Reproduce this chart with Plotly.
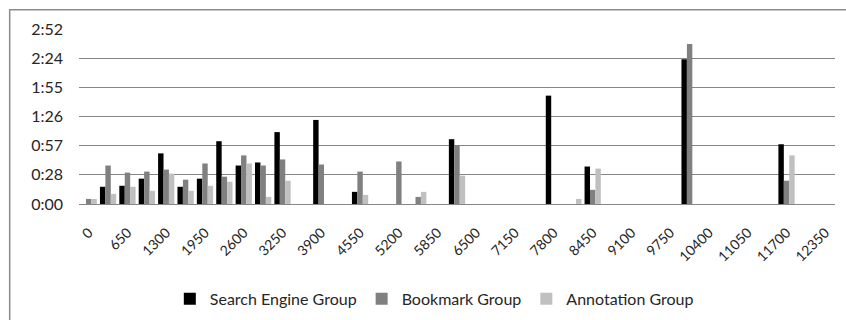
import plotly.graph_objects as go

# Elapsed time bins (one category per 325 units)
categories = ["0", "325", "650", "975", "1300", "1625", "1950", "2275", "2600", "2925",
              "3250", "3575", "3900", "4225", "4550", "4875", "5200", "5525", "5850", "6175",
              "6500", "6825", "7150", "7475", "7800", "8125", "8450", "8775", "9100", "9425",
              "9750", "10075", "10400", "10725", "11050", "11375", "11700", "12025", "12350"]

# Durations in seconds
search_engine = [0, 17, 18, 25, 50, 17, 25, 62, 38, 41,
                 71, 0, 83, 0, 12, 0, 0, 0, 0, 64,
                 0, 0, 0, 0, 107, 0, 37, 0, 0, 0,
                 0, 143, 0, 0, 0, 0, 59, 0, 0]
bookmark = [5, 38, 31, 32, 34, 24, 40, 27, 48, 38,
            44, 0, 39, 0, 32, 0, 42, 7, 0, 58,
            0, 0, 0, 0, 0, 0, 14, 0, 0, 0,
            0, 158, 0, 0, 0, 0, 23, 0, 0]
annotation = [5, 10, 17, 13, 30, 13, 18, 22, 40, 7,
              23, 0, 0, 0, 9, 0, 0, 12, 0, 28,
              0, 0, 0, 0, 0, 5, 35, 0, 0, 0,
              0, 0, 0, 0, 0, 0, 48, 0, 0]

# Axis ticks: every 28.8 s, labelled m:ss
y_ticks = [0, 28.8, 57.6, 86.4, 115.2, 144.0, 172.8]
y_labels = ["0:00", "0:28", "0:57", "1:26", "1:55", "2:24", "2:52"]
x_ticks = categories[::2]

series = [
    ("Search Engine Group", search_engine, "#000000"),
    ("Bookmark Group", bookmark, "#808080"),
    ("Annotation Group", annotation, "#c0c0c0"),
]

fig = go.Figure()
for name, values, color in series:
    fig.add_trace(go.Bar(x=categories, y=values, name=name,
                         marker=dict(color=color, line=dict(width=0))))

font_family = "Lato, 'Open Sans', sans-serif"

fig.update_layout(
    width=846, height=320,
    margin=dict(l=79, r=11, t=29, b=116),
    paper_bgcolor="white", plot_bgcolor="white",
    barmode="group", bargap=0.16, bargroupgap=0,
    font=dict(family=font_family, size=14, color="#262626"),
    showlegend=True,
    legend=dict(orientation="h", x=0.47, xanchor="center",
                yref="container", y=0.066, yanchor="middle",
                font=dict(size=16, color="#262626"), itemwidth=30,
                traceorder="normal", tracegroupgap=0),
    xaxis=dict(type="category", categoryorder="array", categoryarray=categories,
               tickmode="array", tickvals=x_ticks, ticktext=x_ticks,
               tickangle=-45, showgrid=False, showline=True, automargin=False,
               linecolor="#868686", linewidth=1, ticks="", ticklabelstandoff=14,
               tickfont=dict(size=14, color="#262626")),
    yaxis=dict(range=[0, 172.8], tickmode="array", tickvals=y_ticks, ticktext=y_labels,
               showgrid=True, gridcolor="#868686", gridwidth=1, zeroline=False,
               showline=False, ticks="", ticklabelstandoff=15, automargin=False,
               tickfont=dict(size=16, color="#262626")),
    shapes=[dict(type="rect", xref="paper", yref="paper",
                 x0=-0.0917, x1=1.05, y0=-1.0, y1=1.1103,
                 line=dict(color="#8c8c8c", width=1.5), fillcolor="rgba(0,0,0,0)",
                 layer="below")],
)

fig.write_html("out.html")
